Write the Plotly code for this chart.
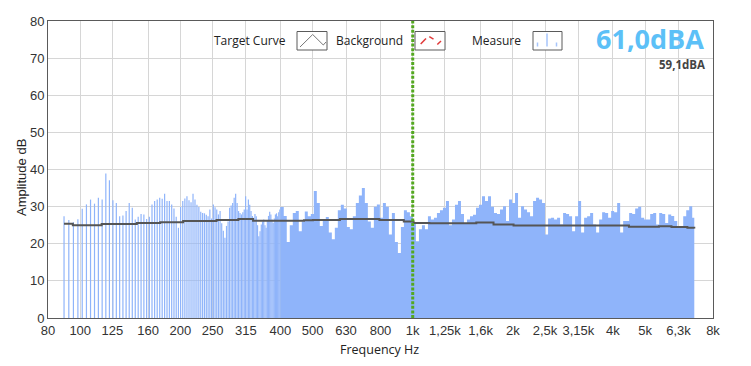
import math
import plotly.graph_objects as go

# ---------------- data ----------------
# Measure: low-frequency FFT bins (drawn as individual thin bars)
BIN_START_HZ = 89.4
BIN_STEP_HZ = 3.0
measure_low_db = [
    27.4, 26.4, 25.8, 26.6, 29.4, 30.6, 31.9, 30.8, 32.4, 31.9,
    38.9, 37.1, 31.7, 31.0, 27.4, 27.6, 28.8, 31.0, 29.7, 26.5,
    27.3, 28.0, 27.9, 26.7, 27.3, 30.6, 31.5, 31.9, 32.4, 32.1,
    33.5, 31.5, 31.5, 30.6, 29.5, 27.3, 24.3, 29.9, 31.5, 32.2,
    32.8, 31.7, 31.2, 33.5, 31.9, 30.5, 29.9, 28.6, 28.3, 28.2,
    27.8, 27.4, 29.2, 26.8, 30.6, 29.8, 29.2, 27.9, 28.8, 25.5,
    23.5, 21.6, 24.8, 26.0, 29.7, 30.3, 31.0, 32.4, 33.5, 31.0,
    28.8, 28.3, 27.9, 28.5, 29.2, 32.8, 29.2, 31.9, 30.5, 28.8,
    27.5, 27.0, 28.0, 27.4, 25.0, 22.0, 23.4, 25.2, 26.0, 26.5,
    25.0, 24.3, 26.1, 27.5, 28.6, 27.9, 26.5, 25.6, 26.8, 27.9,
    28.2, 27.4, 28.5, 29.2, 29.9,
]

# Measure: dense region (continuous envelope)
measure_high_hz = [
    401.0, 409.4, 418.0, 426.8, 435.8, 444.9, 454.3, 463.8, 473.6, 483.5,
    493.7, 504.1, 514.7, 525.5, 536.5, 547.8, 559.3, 571.1, 583.1, 595.3,
    607.8, 620.6, 633.6, 646.9, 660.5, 674.4, 688.6, 703.1, 717.8, 732.9,
    748.3, 764.1, 780.1, 796.5, 813.3, 830.4, 847.8, 865.6, 883.8, 902.4,
    921.4, 940.8, 960.5, 980.7, 1001.3, 1022.4, 1043.9, 1065.8, 1088.2, 1111.1,
    1134.4, 1158.3, 1182.6, 1207.5, 1232.9, 1258.8, 1285.2, 1312.2, 1339.8, 1368.0,
    1396.7, 1426.1, 1456.1, 1486.7, 1517.9, 1549.8, 1582.4, 1615.6, 1649.6, 1684.3,
    1719.7, 1755.8, 1792.7, 1830.4, 1868.9, 1908.2, 1948.3, 1989.2, 2031.0, 2073.7,
    2117.3, 2161.8, 2207.2, 2253.6, 2301.0, 2349.3, 2398.7, 2449.1, 2500.5, 2553.1,
    2606.8, 2661.6, 2717.5, 2774.6, 2832.9, 2892.4, 2953.2, 3015.3, 3078.7, 3143.4,
    3209.4, 3276.9, 3345.8, 3416.1, 3487.9, 3561.2, 3636.0, 3712.4, 3790.4, 3870.1,
    3951.4, 4034.5, 4119.3, 4205.8, 4294.2, 4384.5, 4476.6, 4570.7, 4666.8, 4764.9,
    4865.0, 4967.2, 5071.6, 5178.2, 5287.0, 5398.1, 5511.6, 5627.4, 5745.7, 5866.4,
    5989.7, 6115.6, 6244.1, 6375.3, 6509.3, 6646.1, 6785.8, 6928.4,
]
measure_high_db = [
    29.9, 27.5, 20.5, 25.0, 28.3, 28.8, 23.4, 26.0, 28.7, 27.4,
    28.0, 34.2, 31.0, 24.8, 26.5, 27.2, 23.0, 21.2, 24.3, 29.0,
    30.5, 29.5, 24.5, 23.9, 27.4, 31.0, 33.0, 35.0, 31.0, 26.0,
    24.3, 30.0, 30.6, 27.0, 31.0, 30.0, 22.5, 28.3, 20.5, 17.5,
    24.5, 29.0, 28.5, 27.4, 25.6, 20.7, 23.9, 25.0, 23.9, 27.4,
    26.5, 27.0, 28.3, 29.0, 29.7, 31.5, 25.0, 26.5, 30.5, 31.5,
    28.0, 25.6, 26.5, 27.4, 27.8, 29.7, 30.5, 32.8, 31.5, 32.8,
    30.0, 28.3, 28.0, 29.2, 30.1, 26.1, 31.9, 31.0, 33.7, 27.0,
    30.1, 29.2, 28.5, 27.4, 31.5, 32.4, 31.9, 31.0, 22.5, 26.8,
    27.0, 26.5, 27.0, 25.2, 28.3, 28.0, 27.4, 23.4, 27.4, 31.5,
    23.0, 27.0, 27.4, 28.3, 25.2, 23.0, 26.5, 28.5, 28.3, 27.0,
    28.8, 28.5, 31.0, 23.0, 26.1, 26.1, 28.3, 28.0, 29.5, 30.0,
    27.0, 26.5, 26.5, 28.0, 28.3, 25.2, 28.3, 28.0, 25.6, 27.9,
    27.5, 26.1, 24.8, 24.8, 27.4, 29.0, 30.1, 27.0,
]
MEASURE_END_HZ = 7028

# Target curve (stepped)
target_hz = [89.4, 95, 116, 148, 174, 204, 257, 299, 331, 471, 501, 604, 794,
             940, 1006, 1122, 1553, 1750, 2010, 4470, 5500, 6000, 6700, 7028]
target_db = [25.4, 25.0, 25.3, 25.6, 25.8, 26.1, 26.4, 26.7, 26.2, 26.3, 26.4, 26.7, 26.4,
             26.0, 25.6, 25.5, 25.7, 25.2, 24.9, 24.6, 24.7, 24.5, 24.3, 24.1]

REF_HZ = 1000
X_MIN_HZ, X_MAX_HZ = 80, 8000
x_tick_vals = [80, 100, 125, 160, 200, 250, 315, 400, 500, 630, 800, 1000,
               1250, 1600, 2000, 2500, 3150, 4000, 5000, 6300, 8000]
x_tick_text = ["80", "100", "125", "160", "200", "250", "315", "400", "500", "630", "800", "1k",
               "1,25k", "1,6k", "2k", "2,5k", "3,15k", "4k", "5k", "6,3k", "8k"]
y_tick_vals = [0, 10, 20, 30, 40, 50, 60, 70, 80]
LEVEL_MAIN = "61,0dBA"
LEVEL_SUB = "59,1dBA"
legend_names = ["Target Curve", "Background", "Measure"]

# ---------------- styling ----------------
BAR_COLOR = "rgb(143,180,250)"
GRID = "#d6d6d6"
NARROW = "Liberation Sans Narrow, Arial Narrow, sans-serif"
UI = "Open Sans, Noto Sans, sans-serif"

# the page body adds an 8px offset; margins compensate so the plot lands at
# screen x 48..713, y 21..318
OFF = 8
W, H = 751, 366
ML, MR, MT, MB = 48 - OFF, 38 + OFF, 21 - OFF, 48 + OFF
PW, PH = W - ML - MR, H - MT - MB


def px(x):
    return (x - OFF - ML) / PW


def py(y):
    return (H - MB - (y - OFF)) / PH


fig = go.Figure()

# sparse bars
bx, by = [], []
for i, v in enumerate(measure_low_db):
    f = BIN_START_HZ + i * BIN_STEP_HZ
    bx += [f, f, None]
    by += [0, v, None]
fig.add_trace(go.Scatter(x=bx, y=by, mode="lines",
                         line=dict(color=BAR_COLOR, width=1.2),
                         hoverinfo="skip", showlegend=False))

# dense region
fig.add_trace(go.Scatter(x=measure_high_hz + [MEASURE_END_HZ],
                         y=measure_high_db + [measure_high_db[-1]],
                         mode="lines", line=dict(color=BAR_COLOR, width=0, shape="hv"),
                         fill="tozeroy", fillcolor=BAR_COLOR,
                         hoverinfo="skip", showlegend=False))

# target curve
fig.add_trace(go.Scatter(x=target_hz, y=target_db, mode="lines",
                         line=dict(color="#555555", width=2, shape="hv"),
                         showlegend=False))

# 1 kHz marker line
fig.add_trace(go.Scatter(x=[REF_HZ, REF_HZ], y=[0, 80], mode="lines",
                         line=dict(color="rgb(84,168,32)", width=3, dash="3px,1.6px"),
                         showlegend=False))

fig.update_xaxes(type="log", range=[math.log10(X_MIN_HZ), math.log10(X_MAX_HZ)],
                 tickvals=x_tick_vals, ticktext=x_tick_text, tickangle=0,
                 showgrid=True, gridcolor=GRID, gridwidth=1,
                 showline=True, linecolor="#5a5a5a", linewidth=1, mirror=True,
                 ticks="", zeroline=False, automargin=False,
                 tickfont=dict(family=NARROW, size=13, color="#333333"))
fig.update_yaxes(range=[0, 80], tickvals=y_tick_vals,
                 showgrid=True, gridcolor=GRID, gridwidth=1,
                 showline=True, linecolor="#5a5a5a", linewidth=1, mirror=True,
                 ticks="", zeroline=False, automargin=False,
                 tickfont=dict(family=NARROW, size=13, color="#333333"))

shapes = []
ann = []

# legend boxes
boxes = [(297, 327), (415, 445), (533, 562)]
for (x0, x1) in boxes:
    shapes.append(dict(type="rect", xref="paper", yref="paper",
                       x0=px(x0), x1=px(x1), y0=py(50), y1=py(31.5),
                       line=dict(color="#5a5a5a", width=1), fillcolor="white", layer="above"))
# target icon
zz = [(300, 47), (312.7, 34.5), (323.3, 45), (326, 42)]
path = "M " + " L ".join(f"{px(a)},{py(b)}" for a, b in zz)
shapes.append(dict(type="path", xref="paper", yref="paper", path=path,
                   line=dict(color="#777777", width=1), layer="above"))
# background icon (red dashed)
for (a, b, c, d) in [(420.7, 44, 426, 38.5), (429.3, 36.7, 433.5, 39.2), (437.3, 44.5, 441, 41)]:
    shapes.append(dict(type="line", xref="paper", yref="paper",
                       x0=px(a), y0=py(b), x1=px(c), y1=py(d),
                       line=dict(color="#e03a3a", width=1.5), layer="above"))
# measure icon
for (a, top) in [(537.5, 42.5), (547, 33.5), (556.5, 42.5)]:
    shapes.append(dict(type="line", xref="paper", yref="paper",
                       x0=px(a), y0=py(46.5), x1=px(a), y1=py(top),
                       line=dict(color="#a6c4fb", width=1.5), layer="above"))

for name, xr in zip(legend_names, [288, 405, 523]):
    ann.append(dict(text=name, xref="paper", yref="paper", x=px(xr), y=py(40),
                    xanchor="right", yanchor="middle", showarrow=False,
                    font=dict(family=UI, size=12, color="#222222")))

ann.append(dict(text=f"<b>{LEVEL_MAIN}</b>", xref="paper", yref="paper",
                x=px(706), y=py(39), xanchor="right", yanchor="middle", showarrow=False,
                font=dict(family=UI, size=27, color="#5cc0f7")))
ann.append(dict(text=f"<b>{LEVEL_SUB}</b>", xref="paper", yref="paper",
                x=px(706.5), y=py(64), xanchor="right", yanchor="middle", showarrow=False,
                font=dict(family=UI, size=11.5, color="#444444")))

ann.append(dict(text="Frequency Hz", xref="paper", yref="paper",
                x=px(379), y=py(349), xanchor="center", yanchor="middle", showarrow=False,
                font=dict(family=UI, size=12.5, color="#222222")))
ann.append(dict(text="Amplitude dB", xref="paper", yref="paper", textangle=-90,
                x=px(22), y=py(178), xanchor="center", yanchor="middle", showarrow=False,
                font=dict(family=NARROW, size=13, color="#222222")))

fig.update_layout(width=W, height=H,
                  margin=dict(l=ML, r=MR, t=MT, b=MB, pad=0),
                  paper_bgcolor="white", plot_bgcolor="white",
                  shapes=shapes, annotations=ann, showlegend=False)

fig.write_html("out.html")
